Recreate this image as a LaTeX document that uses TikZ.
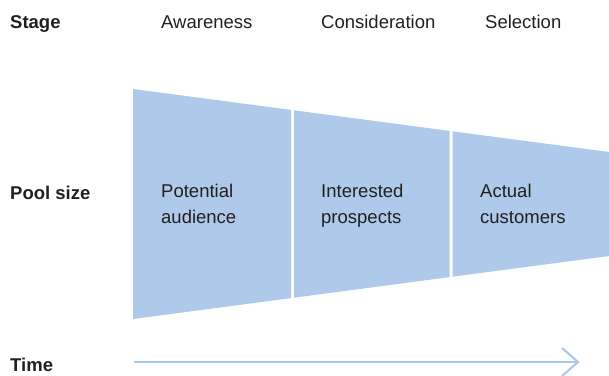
\documentclass[tikz,border=0pt]{standalone}
\usepackage{fontspec}
\setmainfont{Liberation Sans}
\begin{document}
\begin{tikzpicture}[x=1pt,y=-1pt,
  lbl/.style={anchor=base west,inner sep=0pt,text=txt,font=\fontsize{18.5}{26}\selectfont},
  hdr/.style={lbl,font=\fontsize{18.5}{26}\selectfont\bfseries},
  seg/.style={fill=funnel,draw=none},
  pool/.style={anchor=north west,inner sep=0pt,text=txt,align=left,font=\fontsize{18.5}{26}\selectfont}]
\definecolor{funnel}{HTML}{AEC9E9}
\definecolor{txt}{HTML}{231F20}
\definecolor{arrowc}{HTML}{A8C6E8}
\useasboundingbox (0,0) rectangle (609,375);
% funnel segments
\fill[funnel] (133,89) -- (291,109.9) -- (291,298.1) -- (133,319) -- cycle;
\fill[funnel] (294,110.3) -- (449.5,130.9) -- (449.5,277.1) -- (294,297.7) -- cycle;
\fill[funnel] (452.5,131.3) -- (609,152) -- (609,256) -- (452.5,276.7) -- cycle;
% headers
\node[hdr] (stage) at (10,28) {Stage};
\node[lbl] (aw) at (161,28) {Awareness};
\node[lbl] (co) at (321,28) {Consideration};
\node[lbl] (se) at (485,28) {Selection};
\node[hdr] (pool) at (10,199.5) {Pool size};
\node[hdr] (time) at (10,371.5) {Time};
% pool labels
\node[pool] (pa) at (161,184.2) {Potential\\audience};
\node[pool] (ip) at (321,184.2) {Interested\\prospects};
\node[pool] (ac) at (480,184.2) {Actual\\customers};
% time arrow
\coordinate (ts) at (134,362);
\coordinate (te) at (578,362);
\coordinate (tu) at (562,348);
\coordinate (tl) at (562,376);
\draw[arrowc,line width=2pt] (ts) -- (te);
\draw[arrowc,line width=2pt,line join=miter] (tu) -- (te) -- (tl);
\end{tikzpicture}
\end{document}
